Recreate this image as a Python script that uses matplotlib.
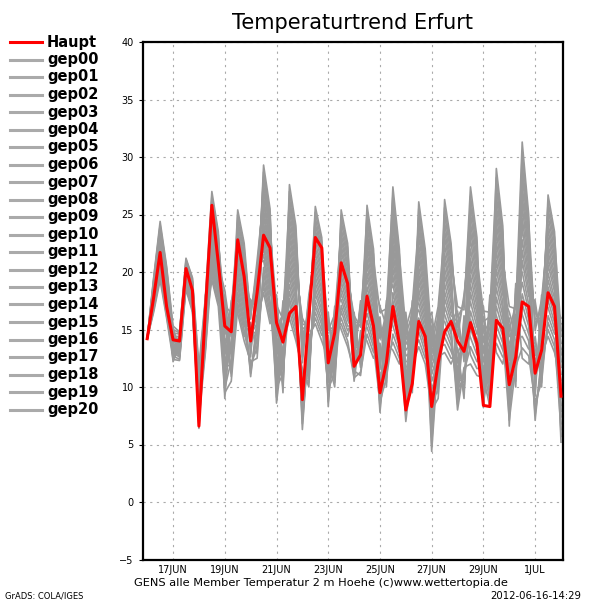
import numpy as np
import matplotlib
matplotlib.use("Agg")
from matplotlib import pyplot as plt
from matplotlib.lines import Line2D

# time axis: 6-hourly steps from 16 JUN 00Z (in days)
days = np.arange(65) * 0.25

tick_days = [1, 3, 5, 7, 9, 11, 13, 15]
tick_labels = ["17JUN", "19JUN", "21JUN", "23JUN", "25JUN", "27JUN", "29JUN", "1JUL"]

# main run (Haupt)
haupt = [14.2, 17.8, 21.7, 17.0, 14.1, 14.0, 20.3, 18.4, 6.6, 16.7, 25.8, 20.8,
         15.3, 14.8, 22.8, 19.6, 14.0, 18.2, 23.2, 22.1, 15.6, 13.9, 16.4, 17.0,
         8.9, 16.1, 23.0, 22.1, 12.1, 14.7, 20.8, 19.0, 11.8, 12.8, 17.9, 15.3,
         9.5, 12.1, 17.0, 13.8, 8.0, 10.3, 15.7, 14.4, 8.3, 12.1, 14.8, 15.7,
         14.0, 13.1, 15.6, 13.8, 8.4, 8.3, 15.8, 15.1, 10.2, 12.6, 17.4, 17.0,
         11.2, 13.2, 18.2, 17.0, 9.2]

# ensemble members
gep00 = [14.2, 16.5, 19.3, 16.0, 12.4, 12.3, 18.6, 16.7, 7.8, 13.3, 21.2, 18.6,
         9.9, 12.3, 17.3, 14.9, 11.9, 13.4, 19.9, 17.0, 11.9, 10.7, 20.1, 17.5,
         8.2, 12.8, 17.5, 15.8, 12.0, 11.4, 19.7, 17.6, 12.3, 13.9, 17.5, 15.4,
         8.3, 12.3, 13.9, 12.5, 10.8, 9.9, 18.5, 16.0, 10.5, 12.2, 19.7, 17.3,
         13.9, 13.5, 22.0, 18.8, 13.0, 14.6, 21.8, 18.6, 14.4, 15.0, 26.6, 21.8,
         15.9, 16.0, 24.9, 21.9, 7.9]
gep01 = [14.2, 16.7, 19.6, 16.2, 12.7, 12.4, 18.9, 17.0, 8.8, 13.8, 22.8, 19.9,
         12.3, 13.7, 19.6, 17.0, 14.6, 15.5, 24.3, 21.0, 16.6, 13.9, 25.9, 22.5,
         13.6, 16.8, 23.2, 20.8, 8.7, 15.3, 15.5, 14.0, 10.8, 11.3, 14.6, 13.0,
         16.1, 10.4, 26.0, 21.0, 9.9, 16.7, 17.3, 15.0, 9.8, 11.4, 19.0, 16.7,
         14.8, 13.1, 23.6, 20.0, 14.8, 15.6, 25.0, 21.0, 17.0, 16.8, 31.3, 25.0,
         9.2, 18.0, 16.9, 15.1, 13.3]
gep02 = [14.2, 16.8, 19.8, 16.5, 13.0, 12.6, 19.2, 17.3, 9.9, 14.3, 24.3, 21.2,
         14.6, 15.1, 21.8, 19.1, 17.3, 17.6, 28.7, 25.0, 11.4, 17.1, 19.5, 17.0,
         8.7, 12.4, 18.1, 16.3, 14.0, 11.8, 22.3, 19.8, 15.6, 15.6, 24.0, 20.6,
         14.2, 16.4, 23.1, 19.0, 8.9, 15.1, 16.0, 14.0, 9.2, 10.6, 18.3, 16.2,
         15.7, 12.6, 25.1, 21.2, 16.6, 16.5, 28.2, 23.4, 8.7, 18.6, 16.3, 14.6,
         13.3, 11.6, 21.8, 19.3, 7.4]
gep03 = [14.2, 17.0, 20.1, 16.7, 13.3, 12.7, 19.4, 17.6, 11.0, 14.8, 25.8, 22.5,
         17.0, 16.5, 24.1, 21.2, 12.9, 19.7, 21.5, 18.5, 16.1, 11.9, 25.3, 22.0,
         14.1, 16.4, 23.7, 21.2, 10.8, 15.6, 18.1, 16.2, 14.1, 13.0, 21.1, 18.2,
         12.4, 14.5, 20.3, 17.0, 8.0, 13.5, 14.8, 13.0, 8.6, 9.8, 17.7, 15.7,
         16.6, 12.2, 26.6, 22.4, 9.1, 17.5, 14.6, 13.2, 11.3, 10.9, 21.0, 17.9,
         17.5, 13.6, 26.7, 23.5, 12.8]
gep04 = [14.2, 17.1, 20.3, 16.9, 13.6, 12.8, 19.7, 17.9, 6.4, 15.3, 19.3, 17.0,
         9.5, 10.5, 16.9, 14.4, 15.6, 12.9, 26.0, 22.5, 11.0, 15.1, 18.9, 16.5,
         9.2, 12.0, 18.6, 16.7, 16.1, 12.1, 24.9, 22.1, 12.6, 17.2, 18.1, 15.8,
         10.6, 12.6, 17.5, 15.0, 7.0, 11.9, 13.5, 12.0, 8.0, 9.0, 17.0, 15.2,
         8.0, 11.7, 12.0, 11.0, 10.8, 8.3, 17.8, 15.6, 13.9, 12.7, 25.7, 21.1,
         10.7, 15.6, 18.7, 16.7, 6.8]
gep05 = [14.2, 17.3, 20.6, 17.1, 13.9, 12.9, 20.0, 18.2, 7.5, 15.8, 20.8, 18.3,
         11.8, 11.9, 19.1, 16.6, 11.2, 15.1, 18.8, 16.0, 15.7, 9.9, 24.7, 21.5,
         14.5, 16.0, 24.2, 21.7, 12.8, 16.0, 20.7, 18.5, 11.1, 14.6, 15.2, 13.5,
         8.7, 10.8, 14.6, 13.0, 16.0, 10.3, 25.5, 21.5, 7.4, 16.6, 16.3, 14.6,
         8.9, 11.3, 13.5, 12.2, 12.6, 9.3, 21.0, 18.0, 16.5, 14.5, 30.4, 24.4,
         14.9, 17.6, 23.6, 20.9, 12.2]
gep06 = [14.2, 17.4, 20.8, 17.4, 14.2, 13.1, 20.3, 18.5, 8.6, 16.3, 22.4, 19.6,
         14.2, 13.3, 21.4, 18.7, 13.9, 17.2, 23.2, 20.0, 10.5, 13.1, 18.3, 16.0,
         9.7, 11.6, 19.1, 17.2, 9.5, 12.5, 16.6, 14.9, 15.9, 12.0, 24.6, 21.1,
         16.5, 16.8, 26.7, 21.5, 15.1, 17.1, 24.2, 20.5, 6.8, 15.8, 15.7, 14.1,
         9.8, 10.8, 15.1, 13.4, 14.4, 10.2, 24.2, 20.4, 8.2, 16.3, 15.3, 14.0,
         8.1, 11.2, 15.6, 14.1, 6.3]
gep07 = [14.2, 17.6, 21.1, 17.6, 14.5, 13.2, 20.5, 18.8, 9.6, 16.8, 23.9, 20.9,
         16.5, 14.7, 23.6, 20.8, 16.6, 19.3, 27.6, 24.0, 15.2, 16.3, 24.1, 21.0,
         15.0, 15.6, 24.7, 22.1, 14.9, 16.3, 23.3, 20.7, 14.4, 16.2, 21.7, 18.7,
         14.7, 14.9, 23.9, 19.5, 14.1, 15.5, 23.0, 19.5, 6.2, 15.0, 15.0, 13.6,
         10.7, 10.4, 16.6, 14.6, 16.1, 11.2, 27.4, 22.8, 10.8, 18.1, 20.0, 17.2,
         12.3, 13.2, 20.6, 18.3, 11.7]
gep08 = [14.2, 17.7, 21.3, 17.8, 14.8, 13.3, 20.8, 19.1, 10.7, 17.3, 25.5, 22.2,
         9.0, 16.1, 16.4, 14.0, 12.2, 12.5, 20.4, 17.5, 10.0, 11.1, 17.7, 15.5,
         10.2, 11.2, 19.6, 17.6, 11.6, 12.8, 19.2, 17.1, 12.9, 13.6, 18.7, 16.3,
         12.9, 13.0, 21.0, 17.5, 13.2, 13.9, 21.7, 18.5, 5.6, 14.2, 14.3, 13.1,
         11.6, 9.9, 18.2, 15.8, 8.6, 12.2, 13.8, 12.6, 13.4, 10.5, 24.7, 20.5,
         16.5, 15.2, 25.5, 22.5, 5.7]
gep09 = [14.2, 17.9, 21.6, 18.0, 15.1, 13.4, 21.1, 19.4, 11.8, 17.8, 27.0, 23.5,
         11.4, 17.5, 18.7, 16.1, 14.9, 14.6, 24.9, 21.5, 14.7, 14.3, 23.5, 20.5,
         15.5, 15.2, 25.2, 22.6, 8.3, 16.7, 15.0, 13.5, 11.4, 11.0, 15.8, 13.9,
         11.0, 11.1, 18.2, 15.5, 12.2, 12.3, 20.4, 17.5, 5.0, 13.4, 13.7, 12.5,
         12.5, 9.5, 19.7, 17.0, 10.4, 13.2, 17.0, 15.0, 16.0, 12.3, 29.4, 23.7,
         9.7, 17.2, 17.5, 15.6, 11.1]
gep10 = [14.2, 18.0, 21.9, 18.3, 12.2, 13.6, 18.5, 16.5, 7.2, 13.0, 20.5, 18.0,
         13.7, 11.6, 20.9, 18.3, 17.6, 16.8, 29.3, 25.5, 9.5, 17.5, 17.2, 15.0,
         10.7, 10.8, 20.1, 18.1, 13.6, 13.2, 21.8, 19.4, 16.2, 15.2, 25.2, 21.5,
         9.2, 17.1, 15.3, 13.5, 11.3, 10.7, 19.2, 16.5, 4.4, 12.6, 13.0, 12.0,
         13.4, 9.0, 21.2, 18.2, 12.2, 14.1, 20.2, 17.4, 7.6, 14.1, 14.4, 13.3,
         13.9, 10.8, 22.4, 19.8, 5.2]
gep11 = [14.2, 18.2, 22.1, 18.5, 12.5, 13.7, 18.8, 16.8, 8.3, 13.5, 22.0, 19.3,
         16.1, 13.0, 23.2, 20.4, 13.2, 18.9, 22.1, 19.0, 14.2, 12.3, 23.0, 20.0,
         16.0, 14.8, 25.7, 23.0, 10.4, 17.0, 17.6, 15.8, 14.7, 12.6, 22.3, 19.2,
         17.0, 15.3, 27.4, 22.0, 10.3, 17.5, 17.9, 15.5, 16.5, 11.8, 26.3, 22.5,
         14.3, 18.0, 22.8, 19.4, 13.9, 15.1, 23.4, 19.8, 10.2, 15.9, 19.1, 16.6,
         7.1, 12.8, 14.4, 13.0, 10.6]
gep12 = [14.2, 18.3, 22.4, 18.7, 12.8, 13.8, 19.0, 17.1, 9.4, 14.0, 23.5, 20.6,
         18.4, 14.4, 25.4, 22.5, 15.9, 21.0, 26.5, 23.0, 9.1, 15.5, 16.6, 14.5,
         11.2, 10.4, 20.6, 18.5, 15.7, 13.5, 24.4, 21.6, 13.2, 16.9, 19.3, 16.8,
         15.2, 13.4, 24.6, 20.0, 9.4, 15.9, 16.7, 14.5, 15.9, 11.0, 25.6, 22.0,
         15.2, 17.6, 24.3, 20.6, 15.7, 16.1, 26.6, 22.2, 12.8, 17.7, 23.8, 19.8,
         11.3, 14.8, 19.3, 17.2, 16.0]
gep13 = [14.2, 18.5, 22.6, 18.9, 13.1, 13.9, 19.3, 17.4, 10.5, 14.5, 25.1, 21.9,
         10.9, 15.8, 18.2, 15.7, 11.6, 14.2, 19.3, 16.5, 13.8, 10.3, 22.4, 19.5,
         6.3, 14.4, 15.5, 14.0, 12.4, 10.0, 20.2, 18.0, 11.7, 14.3, 16.4, 14.4,
         13.3, 11.5, 21.7, 18.0, 8.4, 14.3, 15.4, 13.5, 15.3, 10.2, 25.0, 21.5,
         16.1, 17.1, 25.9, 21.8, 8.2, 17.0, 13.0, 12.0, 15.4, 10.0, 28.5, 23.1,
         15.4, 16.8, 24.2, 21.4, 10.1]
gep14 = [14.2, 18.6, 22.9, 19.2, 13.4, 14.1, 19.6, 17.7, 11.5, 15.0, 26.6, 23.2,
         13.2, 17.2, 20.5, 17.8, 14.3, 16.3, 23.8, 20.5, 8.6, 13.5, 16.0, 14.0,
         11.6, 10.0, 21.1, 19.0, 9.1, 13.9, 16.0, 14.4, 16.5, 11.7, 25.8, 22.0,
         11.5, 17.5, 18.9, 16.0, 7.5, 12.7, 14.1, 12.5, 14.7, 9.4, 24.3, 20.9,
         17.0, 16.7, 27.4, 23.0, 10.0, 18.0, 16.2, 14.4, 7.1, 11.8, 13.4, 12.7,
         8.7, 10.4, 16.2, 14.6, 15.5]
gep15 = [14.2, 18.8, 23.1, 19.4, 13.8, 14.2, 19.9, 18.0, 6.9, 15.5, 20.1, 17.7,
         15.6, 11.2, 22.7, 20.0, 16.9, 18.5, 28.2, 24.5, 13.3, 16.7, 21.8, 19.0,
         6.8, 14.0, 16.0, 14.5, 14.5, 10.4, 22.8, 20.3, 15.0, 15.9, 22.9, 19.6,
         9.6, 15.6, 16.0, 14.0, 16.5, 11.1, 26.1, 22.0, 14.1, 17.0, 23.6, 20.4,
         8.5, 16.2, 12.8, 11.6, 11.7, 8.8, 19.4, 16.8, 9.7, 13.6, 18.1, 15.9,
         12.8, 12.4, 21.2, 18.8, 9.5]
gep16 = [14.2, 18.9, 23.4, 19.6, 14.1, 14.3, 20.1, 18.3, 8.0, 16.0, 21.6, 19.0,
         17.9, 12.6, 25.0, 22.1, 12.6, 20.6, 21.0, 18.0, 18.0, 11.5, 27.6, 24.0,
         12.1, 18.0, 21.6, 19.4, 11.2, 14.2, 18.6, 16.7, 13.5, 13.3, 19.9, 17.3,
         7.8, 13.8, 13.2, 12.0, 15.6, 9.5, 24.8, 21.0, 13.5, 16.2, 23.0, 19.9,
         9.4, 15.8, 14.3, 12.8, 13.5, 9.8, 22.6, 19.2, 12.3, 15.4, 22.8, 19.2,
         17.0, 14.4, 26.1, 23.0, 14.9]
gep17 = [14.2, 19.1, 23.6, 19.8, 14.4, 14.4, 20.4, 18.6, 9.1, 16.5, 23.2, 20.3,
         10.4, 14.0, 17.8, 15.3, 15.3, 13.8, 25.4, 22.0, 12.8, 14.7, 21.2, 18.5,
         7.3, 13.6, 16.5, 14.9, 16.5, 10.7, 25.4, 22.5, 12.0, 17.5, 17.0, 14.9,
         15.6, 11.9, 25.3, 20.5, 14.6, 16.3, 23.6, 20.0, 12.9, 15.4, 22.3, 19.4,
         10.3, 15.3, 15.9, 14.0, 15.2, 10.7, 25.8, 21.6, 14.9, 17.2, 27.5, 22.4,
         10.2, 16.4, 18.1, 16.2, 9.0]
gep18 = [14.2, 19.2, 23.9, 20.1, 14.7, 14.6, 20.7, 18.9, 10.2, 17.0, 24.7, 21.6,
         12.8, 15.4, 20.0, 17.4, 10.9, 15.9, 18.2, 15.5, 17.5, 9.5, 27.0, 23.5,
         12.6, 17.6, 22.1, 19.9, 13.2, 14.6, 21.2, 18.9, 10.5, 14.9, 14.0, 12.5,
         13.8, 10.0, 22.4, 18.5, 13.7, 14.7, 22.3, 19.0, 12.3, 14.6, 21.6, 18.8,
         11.2, 14.9, 17.4, 15.2, 17.0, 11.7, 29.0, 24.0, 6.6, 19.0, 12.5, 12.0,
         14.4, 10.0, 23.0, 20.4, 14.4]
gep19 = [14.2, 19.4, 24.1, 20.3, 15.0, 14.7, 20.9, 19.2, 11.3, 17.5, 26.2, 22.9,
         15.1, 16.8, 22.3, 19.5, 13.6, 18.0, 22.6, 19.5, 12.4, 12.7, 20.6, 18.0,
         7.8, 13.2, 17.0, 15.4, 9.9, 11.1, 17.1, 15.3, 15.3, 12.3, 23.4, 20.1,
         11.9, 16.0, 19.6, 16.5, 12.7, 13.1, 21.1, 18.0, 11.7, 13.8, 21.0, 18.3,
         12.1, 14.4, 18.9, 16.4, 9.5, 12.7, 15.4, 13.8, 9.2, 11.4, 17.2, 15.3,
         7.6, 12.0, 15.0, 13.5, 8.4]
gep20 = [14.2, 19.5, 24.4, 20.5, 15.3, 14.8, 21.2, 19.5, 6.7, 18.0, 19.7, 17.3,
         17.5, 10.9, 24.5, 21.7, 16.3, 20.2, 27.1, 23.5, 17.1, 15.9, 26.4, 23.0,
         13.1, 17.2, 22.6, 20.3, 15.3, 14.9, 23.8, 21.2, 13.8, 16.5, 20.5, 17.7,
         10.1, 14.1, 16.8, 14.5, 11.8, 11.5, 19.8, 17.0, 11.1, 13.0, 20.3, 17.8,
         13.0, 14.0, 20.5, 17.6, 11.3, 13.6, 18.6, 16.2, 11.8, 13.2, 21.9, 18.5,
         11.8, 14.0, 19.9, 17.7, 13.8]

members = [gep00, gep01, gep02, gep03, gep04, gep05, gep06, gep07, gep08, gep09, gep10,
           gep11, gep12, gep13, gep14, gep15, gep16, gep17, gep18, gep19, gep20]
member_names = ["gep%02d" % i for i in range(21)]

gray = "#999999"
red = "#ff0000"

fig = plt.figure(figsize=(6, 6), dpi=100)
ax = fig.add_axes([0.238, 0.0675, 0.7, 0.8625])

for m in members:
    ax.plot(days, m, color=gray, lw=1.2)
ax.plot(days, haupt, color=red, lw=2.2, zorder=5)

ax.set_xlim(-0.17, 16.07)
ax.set_ylim(-5, 40)
ax.set_yticks(range(-5, 41, 5))
ax.set_xticks(tick_days)
ax.set_xticklabels(tick_labels)
ax.tick_params(axis="both", labelsize=7, length=3, width=0.8, direction="out")
ax.tick_params(axis="x", length=0, pad=4)
ax.grid(True, color="#aaaaaa", linestyle=(0, (2, 4)), lw=0.8)
ax.set_axisbelow(True)
for s in ax.spines.values():
    s.set_linewidth(1.6)
    s.set_color("black")

fig.text(0.588, 0.962, "Temperaturtrend Erfurt", ha="center", va="center",
         fontsize=15, color="black")

# legend on the left
names = ["Haupt"] + member_names
for i, name in enumerate(names):
    y = 1 - (42 + i * 17.5) / 600
    col = red if i == 0 else "#aaaaaa"
    fig.add_artist(Line2D([10 / 600, 42 / 600], [y, y], color=col, lw=2.2))
    fig.text(47 / 600, y, name, ha="left", va="center", fontsize=10.5,
             fontweight="bold")

fig.text(0.223, 0.028, "GENS alle Member Temperatur 2 m Hoehe (c)www.wettertopia.de",
         ha="left", va="center", fontsize=8.2)
fig.text(0.968, 0.007, "2012-06-16-14:29", ha="right", va="center", fontsize=7.3)
fig.text(0.008, 0.007, "GrADS: COLA/IGES", ha="left", va="center", fontsize=6)

fig.savefig("out.png", dpi=100)
